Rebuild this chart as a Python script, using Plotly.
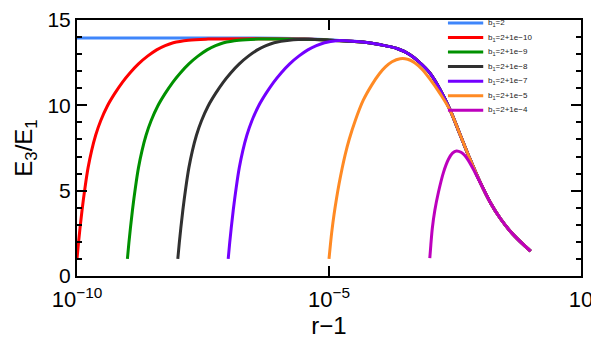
import plotly.graph_objects as go

# curves: log10(r-1) and E3/E1, one pair of lists per curve
lx_b2 = [-10, -9, -8, -7, -6, -5.5, -5.0, -4.66, -4.33, -4.0, -3.65, -3.4, -3.2, -3.0,
         -2.8, -2.6, -2.4, -2.2, -2.0, -1.8, -1.6, -1.4, -1.2, -1.0]
y_b2 = [13.95, 13.95, 13.95, 13.95, 13.93, 13.9, 13.84, 13.77, 13.71, 13.56, 13.33, 12.98,
        12.51, 11.9, 10.95, 9.75, 8.29, 6.83, 5.48, 4.31, 3.37, 2.61, 2.0, 1.46]

lx_e10 = [-10, -9.97, -9.94, -9.9, -9.84, -9.78, -9.71, -9.63, -9.53, -9.4, -9.25, -9.1,
          -8.95, -8.78, -8.6, -8.42, -8.25, -8.09, -7.79, -7.4, -6.5, -5.5, -5.0, -4.66,
          -4.33, -4.0, -3.65, -3.4, -3.2, -3.0, -2.8, -2.6, -2.4, -2.2, -2.0, -1.8, -1.6,
          -1.4, -1.2, -1.0]
y_e10 = [1.0, 1.95, 2.8, 3.85, 5.2, 6.35, 7.35, 8.25, 9.1, 9.95, 10.7, 11.35, 11.9, 12.43,
         12.88, 13.25, 13.5, 13.67, 13.82, 13.88, 13.9, 13.88, 13.82, 13.77, 13.71, 13.56,
         13.33, 12.98, 12.51, 11.9, 10.95, 9.75, 8.29, 6.83, 5.48, 4.31, 3.37, 2.61, 2.0,
         1.46]

lx_e9 = [-9, -8.97, -8.94, -8.9, -8.84, -8.78, -8.71, -8.63, -8.53, -8.4, -8.25, -8.1,
         -7.95, -7.78, -7.6, -7.42, -7.25, -7.09, -6.79, -6.4, -5.5, -5.0, -4.66,
         -4.33, -4.0, -3.65, -3.4, -3.2, -3.0, -2.8, -2.6, -2.4, -2.2, -2.0, -1.8, -1.6,
         -1.4, -1.2, -1.0]
y_e9 = [1.0, 1.95, 2.8, 3.85, 5.2, 6.35, 7.35, 8.25, 9.1, 9.95, 10.7, 11.35, 11.9, 12.43,
        12.88, 13.25, 13.5, 13.67, 13.82, 13.88, 13.87, 13.82, 13.77, 13.71, 13.56,
        13.33, 12.98, 12.51, 11.9, 10.95, 9.75, 8.29, 6.83, 5.48, 4.31, 3.37, 2.61, 2.0,
        1.46]

lx_e8 = [-8, -7.97, -7.94, -7.9, -7.84, -7.78, -7.71, -7.63, -7.53, -7.4, -7.25, -7.1,
         -6.95, -6.78, -6.6, -6.42, -6.25, -6.09, -5.79, -5.4, -5.0, -4.66,
         -4.33, -4.0, -3.65, -3.4, -3.2, -3.0, -2.8, -2.6, -2.4, -2.2, -2.0, -1.8, -1.6,
         -1.4, -1.2, -1.0]
y_e8 = [1.0, 1.95, 2.8, 3.85, 5.2, 6.35, 7.35, 8.25, 9.1, 9.95, 10.7, 11.35, 11.9, 12.43,
        12.88, 13.25, 13.5, 13.67, 13.82, 13.87, 13.82, 13.77, 13.71, 13.56,
        13.33, 12.98, 12.51, 11.9, 10.95, 9.75, 8.29, 6.83, 5.48, 4.31, 3.37, 2.61, 2.0,
        1.46]

lx_e7 = [-7, -6.97, -6.94, -6.9, -6.84, -6.78, -6.71, -6.63, -6.53, -6.4, -6.25, -6.1,
         -5.95, -5.78, -5.6, -5.42, -5.25, -5.09, -4.85, -4.6,
         -4.33, -4.0, -3.65, -3.4, -3.2, -3.0, -2.8, -2.6, -2.4, -2.2, -2.0, -1.8, -1.6,
         -1.4, -1.2, -1.0]
y_e7 = [1.0, 1.95, 2.8, 3.85, 5.2, 6.35, 7.35, 8.25, 9.1, 9.95, 10.7, 11.35, 11.9, 12.43,
        12.88, 13.25, 13.5, 13.67, 13.79, 13.77, 13.71, 13.56,
        13.33, 12.98, 12.51, 11.9, 10.95, 9.75, 8.29, 6.83, 5.48, 4.31, 3.37, 2.61, 2.0,
        1.46]

lx_e5 = [-5, -4.97, -4.94, -4.9, -4.85, -4.8, -4.74, -4.68, -4.6, -4.48, -4.32, -4.15,
         -4.0, -3.88, -3.75, -3.59, -3.44, -3.3, -3.15, -3.0, -2.8, -2.6, -2.4, -2.2, -2.0,
         -1.8, -1.6, -1.4, -1.2, -1.0]
y_e5 = [1.0, 1.9, 2.7, 3.6, 4.55, 5.4, 6.3, 7.1, 8.0, 9.1, 10.3, 11.2, 11.85, 12.25, 12.55,
        12.73, 12.7, 12.5, 12.1, 11.55, 10.7, 9.72, 8.29, 6.83, 5.48, 4.31, 3.37, 2.61, 2.0,
        1.46]

lx_e4 = [-3.0, -2.98, -2.95, -2.9, -2.83, -2.73, -2.63, -2.55, -2.47, -2.38, -2.3, -2.2,
         -2.1, -2.0, -1.8, -1.6, -1.4, -1.2, -1.0]
y_e4 = [1.05, 1.8, 2.8, 3.85, 4.89, 6.06, 6.84, 7.2, 7.33, 7.25, 7.04, 6.6, 6.05, 5.48,
        4.31, 3.37, 2.61, 2.0, 1.46]

names = ['b<sub>1</sub>=2', 'b<sub>1</sub>=2+1e\u221210', 'b<sub>1</sub>=2+1e\u22129',
         'b<sub>1</sub>=2+1e\u22128', 'b<sub>1</sub>=2+1e\u22127', 'b<sub>1</sub>=2+1e\u22125',
         'b<sub>1</sub>=2+1e\u22124']
colors = ['#3f86fb', '#ff0000', '#009100', '#303030', '#7300ff', '#ff8a24', '#bd00bd']
lxs = [lx_b2, lx_e10, lx_e9, lx_e8, lx_e7, lx_e5, lx_e4]
ys = [y_b2, y_e10, y_e9, y_e8, y_e7, y_e5, y_e4]

fig = go.Figure()
for lx, y, name, c in zip(lxs, ys, names, colors):
    fig.add_trace(go.Scatter(
        x=[10 ** v for v in lx], y=y, name=name, mode='lines',
        line=dict(color=c, width=3, shape='spline', smoothing=1.0),
        showlegend=False,
    ))

# compact legend (plotly's own legend rows are too tall for this one)
for i, (name, c) in enumerate(zip(names, colors)):
    yy = 0.988 - i * 0.0567
    fig.add_shape(type='line', xref='paper', yref='paper',
                  x0=0.736, x1=0.806, y0=yy, y1=yy,
                  line=dict(color=c, width=3))
    fig.add_annotation(xref='paper', yref='paper', x=0.811, y=yy,
                       xanchor='left', yanchor='middle', text=name, showarrow=False,
                       font=dict(family='Liberation Sans, Arial, sans-serif', size=8,
                                 color='#222222'))

# the page body has an 8px margin, so the figure is 8px smaller than the window
fig.update_layout(
    width=591, height=339,
    margin=dict(l=69, r=18, t=12, b=71),
    plot_bgcolor='white', paper_bgcolor='white',
    font=dict(family='Liberation Sans, Arial, sans-serif', size=20, color='black'),
    xaxis=dict(
        type='log', range=[-10, 0], automargin=False,
        tickvals=[1e-10, 1e-5, 1],
        ticktext=['10<sup>\u221210</sup>', '10<sup>\u22125</sup>', '10'],
        tickfont=dict(size=22), ticklabelstandoff=3,
        ticks='inside', ticklen=10, tickwidth=2, tickcolor='black',
        showline=True, linewidth=2, linecolor='black', mirror='ticks',
        showgrid=False, zeroline=False,
        title=dict(text='r\u22121', standoff=2),
    ),
    yaxis=dict(
        range=[0, 15], tickvals=[0, 5, 10, 15], automargin=False,
        tickfont=dict(size=21),
        ticks='inside', ticklen=10, tickwidth=2, tickcolor='black',
        minor=dict(dtick=1, ticks='inside', ticklen=5, tickwidth=1.5, tickcolor='black'),
        showline=True, linewidth=2, linecolor='black', mirror='ticks',
        showgrid=False, zeroline=False,
        title=dict(text='E<sub>3</sub>/E<sub>1</sub>', standoff=8),
    ),
)

fig.write_html("out.html")
